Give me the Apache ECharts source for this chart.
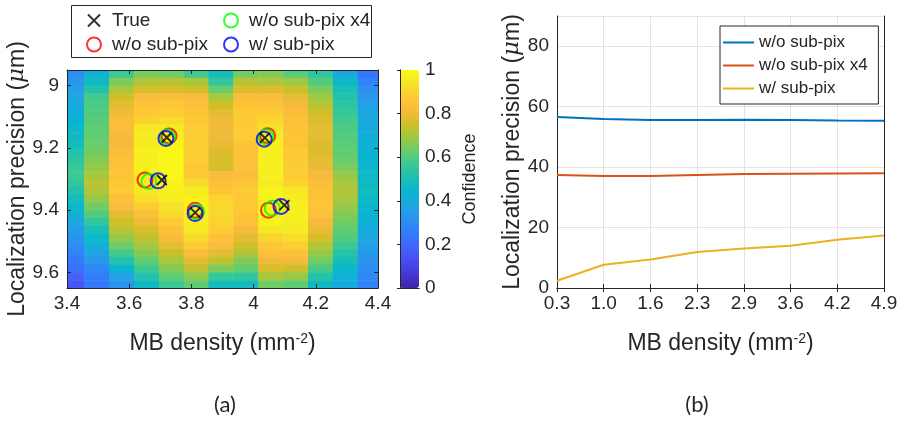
<!DOCTYPE html>
<html>
<head>
<meta charset="utf-8">
<script src="https://cdn.jsdelivr.net/npm/echarts@6/dist/echarts.min.js"></script>
<style>
  html, body { margin: 0; padding: 0; background: #fff; }
  #chart { width: 904px; height: 424px; }
</style>
</head>
<body>
<div id="chart"></div>
<script>
  // (a) confidence map: cell centres and values, one array per column (top row first)
  var cellX = [3.415, 3.495, 3.575, 3.655, 3.735, 3.815, 3.895, 3.975, 4.055, 4.135, 4.215, 4.295, 4.375];
  var cellY = [8.9625, 8.9875, 9.0125, 9.0375, 9.0625, 9.0875, 9.1125, 9.1375, 9.1625, 9.1875,
    9.2125, 9.2375, 9.2625, 9.2875, 9.3125, 9.3375, 9.3625, 9.3875, 9.4125, 9.4375,
    9.4625, 9.4875, 9.5125, 9.5375, 9.5625, 9.5875, 9.6125, 9.6375];
  var cellW = 0.08;
  var cellH = 0.025;
  var confidence = [
    [0.30, 0.33, 0.36, 0.38, 0.40, 0.41, 0.43, 0.45, 0.47, 0.48, 0.52, 0.54, 0.56, 0.57, 0.55, 0.52, 0.48, 0.45, 0.42, 0.38, 0.35, 0.32, 0.30, 0.27, 0.25, 0.22, 0.18, 0.15],
    [0.42, 0.47, 0.52, 0.58, 0.59, 0.60, 0.61, 0.62, 0.62, 0.63, 0.64, 0.66, 0.68, 0.70, 0.72, 0.71, 0.68, 0.64, 0.60, 0.55, 0.50, 0.46, 0.42, 0.37, 0.33, 0.28, 0.25, 0.24],
    [0.57, 0.65, 0.70, 0.75, 0.78, 0.80, 0.83, 0.83, 0.81, 0.81, 0.83, 0.84, 0.85, 0.86, 0.87, 0.88, 0.84, 0.82, 0.78, 0.75, 0.72, 0.68, 0.64, 0.58, 0.52, 0.44, 0.37, 0.32],
    [0.65, 0.71, 0.76, 0.82, 0.86, 0.87, 0.90, 0.95, 0.96, 0.96, 0.97, 0.97, 0.97, 0.97, 0.96, 0.95, 0.93, 0.88, 0.84, 0.80, 0.76, 0.73, 0.70, 0.66, 0.62, 0.57, 0.52, 0.47],
    [0.64, 0.72, 0.77, 0.83, 0.87, 0.88, 0.92, 0.95, 0.97, 0.98, 0.99, 0.99, 0.99, 0.99, 0.98, 0.97, 0.96, 0.93, 0.92, 0.88, 0.85, 0.82, 0.78, 0.74, 0.70, 0.66, 0.62, 0.57],
    [0.58, 0.70, 0.75, 0.82, 0.84, 0.86, 0.87, 0.88, 0.88, 0.89, 0.89, 0.88, 0.87, 0.88, 0.92, 0.96, 0.97, 0.98, 0.97, 0.96, 0.95, 0.92, 0.88, 0.83, 0.78, 0.73, 0.67, 0.62],
    [0.49, 0.55, 0.63, 0.70, 0.75, 0.78, 0.80, 0.80, 0.80, 0.79, 0.77, 0.76, 0.76, 0.82, 0.84, 0.86, 0.90, 0.91, 0.91, 0.90, 0.88, 0.85, 0.82, 0.78, 0.73, 0.65, 0.56, 0.48],
    [0.64, 0.72, 0.77, 0.83, 0.86, 0.88, 0.88, 0.88, 0.88, 0.86, 0.85, 0.85, 0.84, 0.83, 0.86, 0.88, 0.87, 0.87, 0.86, 0.84, 0.81, 0.78, 0.75, 0.71, 0.66, 0.62, 0.55, 0.48],
    [0.66, 0.71, 0.77, 0.83, 0.85, 0.88, 0.91, 0.94, 0.96, 0.97, 0.97, 0.97, 0.97, 0.97, 0.96, 0.98, 0.98, 0.98, 0.98, 0.98, 0.95, 0.90, 0.87, 0.84, 0.80, 0.76, 0.70, 0.64],
    [0.61, 0.69, 0.74, 0.78, 0.81, 0.83, 0.84, 0.85, 0.86, 0.86, 0.88, 0.88, 0.88, 0.88, 0.90, 0.95, 0.96, 0.97, 0.97, 0.96, 0.96, 0.93, 0.89, 0.85, 0.81, 0.74, 0.68, 0.62],
    [0.55, 0.60, 0.65, 0.69, 0.72, 0.75, 0.77, 0.78, 0.78, 0.77, 0.77, 0.78, 0.79, 0.81, 0.83, 0.84, 0.85, 0.86, 0.85, 0.81, 0.79, 0.76, 0.72, 0.68, 0.64, 0.59, 0.53, 0.47],
    [0.38, 0.46, 0.50, 0.52, 0.54, 0.56, 0.58, 0.59, 0.60, 0.61, 0.62, 0.63, 0.65, 0.68, 0.70, 0.71, 0.70, 0.68, 0.66, 0.64, 0.62, 0.60, 0.57, 0.53, 0.49, 0.45, 0.42, 0.40],
    [0.24, 0.27, 0.31, 0.33, 0.36, 0.38, 0.39, 0.40, 0.41, 0.42, 0.43, 0.44, 0.45, 0.46, 0.47, 0.48, 0.46, 0.45, 0.44, 0.42, 0.40, 0.38, 0.36, 0.34, 0.32, 0.30, 0.29, 0.27]
  ];

  // (a) localized positions
  var trueX = [3.721, 4.036, 3.705, 3.812, 4.099];
  var trueY = [9.167, 9.168, 9.303, 9.408, 9.384];
  var noSubX = [3.728, 4.045, 3.651, 3.812, 4.048];
  var noSubY = [9.162, 9.161, 9.303, 9.400, 9.400];
  var noSubX4X = [3.723, 4.040, 3.663, 3.817, 4.060];
  var noSubX4Y = [9.165, 9.165, 9.308, 9.405, 9.394];
  var subX = [3.718, 4.034, 3.693, 3.812, 4.088];
  var subY = [9.170, 9.172, 9.306, 9.411, 9.388];

  // (b) localization precision vs density
  var densityLabels = ['0.3', '1.0', '1.6', '2.3', '2.9', '3.6', '4.2', '4.9'];
  var precNoSub = [56.6, 55.9, 55.6, 55.6, 55.7, 55.6, 55.4, 55.3];
  var precNoSubX4 = [37.4, 37.1, 37.1, 37.4, 37.7, 37.8, 37.9, 38.0];
  var precSub = [2.4, 7.7, 9.4, 11.9, 13.1, 14.0, 16.0, 17.4];

  var parula = ['#3e26a8', '#4537d5', '#484cf0', '#4563fd', '#327cfc', '#2b91ef', '#20a5e3', '#08b5d0',
    '#19bfb6', '#37c897', '#64cd6f', '#9dc943', '#d1bf27', '#f8ba3d', '#fec934', '#f5e327', '#f9fb15'];

  var ink = '#262626';
  var font = 'Liberation Sans, Arial, sans-serif';

  var cells = [];
  cellX.forEach(function (x, i) {
    cellY.forEach(function (y, j) {
      cells.push([x, y, confidence[i][j]]);
    });
  });

  function pts(xs, ys) {
    return xs.map(function (x, i) { return [x, ys[i]]; });
  }

  var crossPath = 'path://M0,0M16,16M3,3L13,13M3,13L13,3';
  var crossIcon = 'path://M0,0M14,14M1,1L13,13M1,13L13,1';

  var chart = echarts.init(document.getElementById('chart'));

  var axisLineStyle = { show: true, lineStyle: { color: ink, width: 1 } };
  var nameRich = {
    sup: { fontSize: 14, verticalAlign: 'top', fontFamily: font, color: ink },
    mu: { fontSize: 23, fontStyle: 'italic', fontFamily: 'DejaVu Serif', color: ink }
  };
  var nameStyle = { fontSize: 23, color: ink, fontFamily: font, rich: nameRich };
  var tickLabel = { fontSize: 19, color: ink, fontFamily: font };

  chart.setOption({
    animation: false,
    textStyle: { fontFamily: font },
    grid: [
      { left: 67, top: 70, width: 311, height: 218 },
      { left: 400, top: 70, width: 19, height: 218 },
      { left: 557, top: 16, width: 327, height: 272 }
    ],
    xAxis: [
      {
        gridIndex: 0, type: 'value', min: 3.4, max: 4.4, interval: 0.2, z: 10,
        axisLine: axisLineStyle,
        axisTick: { inside: true, length: 4, lineStyle: { color: ink } },
        axisLabel: Object.assign({ margin: 6 }, tickLabel),
        splitLine: { show: false },
        name: 'MB density (mm{sup|-2})', nameLocation: 'middle', nameGap: 44, nameTextStyle: nameStyle
      },
      {
        gridIndex: 0, type: 'value', position: 'top', min: 3.4, max: 4.4, interval: 0.2, z: 10,
        axisLine: axisLineStyle,
        axisTick: { inside: true, length: 4, lineStyle: { color: ink } },
        axisLabel: { show: false }, splitLine: { show: false }
      },
      {
        gridIndex: 1, type: 'value', min: 0, max: 1, z: 10,
        axisLine: axisLineStyle, axisTick: { show: false }, axisLabel: { show: false }, splitLine: { show: false }
      },
      {
        gridIndex: 1, type: 'value', position: 'top', min: 0, max: 1, z: 10,
        axisLine: axisLineStyle, axisTick: { show: false }, axisLabel: { show: false }, splitLine: { show: false }
      },
      {
        gridIndex: 2, type: 'category', boundaryGap: false, data: densityLabels,
        axisLine: axisLineStyle,
        axisTick: { inside: true, length: 4, lineStyle: { color: ink } },
        axisLabel: Object.assign({ margin: 6 }, tickLabel),
        splitLine: { show: true, lineStyle: { color: '#e3e3e3' } },
        name: 'MB density (mm{sup|-2})', nameLocation: 'middle', nameGap: 44, nameTextStyle: nameStyle
      },
      {
        gridIndex: 2, type: 'category', position: 'top', boundaryGap: false, data: densityLabels,
        axisLine: axisLineStyle,
        axisTick: { inside: true, length: 4, lineStyle: { color: ink } },
        axisLabel: { show: false }, splitLine: { show: false }
      }
    ],
    yAxis: [
      {
        gridIndex: 0, type: 'value', inverse: true, min: 8.95, max: 9.65, z: 10,
        axisLine: axisLineStyle,
        axisTick: { inside: true, length: 4, customValues: [9, 9.2, 9.4, 9.6], lineStyle: { color: ink } },
        axisLabel: Object.assign({ margin: 8, customValues: [9, 9.2, 9.4, 9.6] }, tickLabel),
        splitLine: { show: false },
        name: 'Localization precision ({mu|μ}m)', nameLocation: 'middle', nameGap: 35, nameTextStyle: nameStyle
      },
      {
        gridIndex: 0, type: 'value', position: 'right', inverse: true, min: 8.95, max: 9.65, z: 10,
        axisLine: axisLineStyle,
        axisTick: { inside: true, length: 4, customValues: [9, 9.2, 9.4, 9.6], lineStyle: { color: ink } },
        axisLabel: { show: false }, splitLine: { show: false }
      },
      {
        gridIndex: 1, type: 'value', min: 0, max: 1, z: 10,
        axisLine: axisLineStyle, axisTick: { show: false }, axisLabel: { show: false }, splitLine: { show: false }
      },
      {
        gridIndex: 1, type: 'value', position: 'right', min: 0, max: 1, interval: 0.2, z: 10,
        axisLine: axisLineStyle,
        axisTick: { inside: true, length: 3, lineStyle: { color: ink } },
        axisLabel: { fontSize: 19, color: ink, margin: 6 },
        splitLine: { show: false },
        name: 'Confidence', nameLocation: 'middle', nameGap: 42,
        nameTextStyle: { fontSize: 18, color: ink }
      },
      {
        gridIndex: 2, type: 'value', min: 0, max: 90, interval: 20,
        axisLine: axisLineStyle,
        axisTick: { inside: true, length: 4, lineStyle: { color: ink } },
        axisLabel: Object.assign({ margin: 8, showMaxLabel: false }, tickLabel),
        splitLine: { show: true, lineStyle: { color: '#e3e3e3' } },
        name: 'Localization precision ({mu|μ}m)', nameLocation: 'middle', nameGap: 31, nameTextStyle: nameStyle
      },
      {
        gridIndex: 2, type: 'value', position: 'right', min: 0, max: 90, interval: 20,
        axisLine: axisLineStyle,
        axisTick: { inside: true, length: 4, lineStyle: { color: ink } },
        axisLabel: { show: false }, splitLine: { show: false }
      }
    ],
    visualMap: {
      type: 'continuous', min: 0, max: 1, seriesIndex: 0, dimension: 2,
      left: 400, top: 70, itemWidth: 19, itemHeight: 218, padding: 0,
      calculable: false, text: null, hoverLink: false,
      inRange: { color: parula }
    },
    legend: [
      {
        data: [{ name: 'True', icon: crossIcon }, 'w/o sub-pix'], left: 86, top: 11, orient: 'vertical', padding: 0,
        itemWidth: 26, itemHeight: 14, itemGap: 5,
        textStyle: { fontSize: 19, color: ink, fontFamily: font }
      },
      {
        data: ['w/o sub-pix x4', 'w/ sub-pix'], left: 223, top: 11, orient: 'vertical', padding: 0,
        itemWidth: 26, itemHeight: 14, itemGap: 5,
        textStyle: { fontSize: 19, color: ink, fontFamily: font }
      },
      {
        data: ['w/o sub-pix ', 'w/o sub-pix x4 ', 'w/ sub-pix '], left: 720, top: 26, orient: 'vertical',
        padding: [8, 6, 7, 3], itemWidth: 31, itemHeight: 2, itemGap: 6, icon: 'rect',
        borderColor: ink, borderWidth: 1, backgroundColor: '#fff',
        textStyle: { fontSize: 17, color: ink, fontFamily: font }
      }
    ],
    graphic: [
      { type: 'rect', left: 71, top: 5, shape: { width: 300, height: 52 }, style: { fill: '#fff', stroke: ink, lineWidth: 1 }, z: -1 },
      { type: 'text', x: 225, y: 405, style: { text: '(a)', fontSize: 22, fill: ink, fontFamily: 'Lato', align: 'center', verticalAlign: 'middle' } },
      { type: 'text', x: 697, y: 405, style: { text: '(b)', fontSize: 22, fill: ink, fontFamily: 'Lato', align: 'center', verticalAlign: 'middle' } }
    ],
    series: [
      {
        type: 'custom', name: 'confidence', xAxisIndex: 0, yAxisIndex: 0, clip: true,
        encode: { x: 0, y: 1 }, data: cells,
        renderItem: function (params, api) {
          var x = api.value(0), y = api.value(1);
          var p0 = api.coord([x - cellW / 2, y - cellH / 2]);
          var p1 = api.coord([x + cellW / 2, y + cellH / 2]);
          return {
            type: 'rect',
            shape: {
              x: Math.min(p0[0], p1[0]), y: Math.min(p0[1], p1[1]),
              width: Math.abs(p1[0] - p0[0]) + 0.5, height: Math.abs(p1[1] - p0[1]) + 0.5
            },
            style: { fill: api.visual('color') }
          };
        }
      },
      {
        type: 'scatter', name: 'w/o sub-pix', xAxisIndex: 0, yAxisIndex: 0, data: pts(noSubX, noSubY),
        symbol: 'circle', symbolSize: 15, z: 3,
        itemStyle: { color: 'rgba(0,0,0,0)', borderColor: '#ff0000', borderWidth: 2 }
      },
      {
        type: 'scatter', name: 'w/o sub-pix x4', xAxisIndex: 0, yAxisIndex: 0, data: pts(noSubX4X, noSubX4Y),
        symbol: 'circle', symbolSize: 15, z: 4,
        itemStyle: { color: 'rgba(0,0,0,0)', borderColor: '#00ff00', borderWidth: 2 }
      },
      {
        type: 'scatter', name: 'w/ sub-pix', xAxisIndex: 0, yAxisIndex: 0, data: pts(subX, subY),
        symbol: 'circle', symbolSize: 15, z: 5,
        itemStyle: { color: 'rgba(0,0,0,0)', borderColor: '#0000ff', borderWidth: 2 }
      },
      {
        type: 'scatter', name: 'True', xAxisIndex: 0, yAxisIndex: 0, data: pts(trueX, trueY),
        symbol: crossPath, symbolSize: 16, z: 6,
        itemStyle: { color: 'rgba(0,0,0,0)', borderColor: '#000', borderWidth: 2 }
      },
      {
        type: 'line', name: 'w/o sub-pix ', xAxisIndex: 4, yAxisIndex: 4, data: precNoSub,
        symbol: 'none', lineStyle: { color: '#0072bd', width: 2 }, itemStyle: { color: '#0072bd' }
      },
      {
        type: 'line', name: 'w/o sub-pix x4 ', xAxisIndex: 4, yAxisIndex: 4, data: precNoSubX4,
        symbol: 'none', lineStyle: { color: '#d95319', width: 2 }, itemStyle: { color: '#d95319' }
      },
      {
        type: 'line', name: 'w/ sub-pix ', xAxisIndex: 4, yAxisIndex: 4, data: precSub,
        symbol: 'none', lineStyle: { color: '#edb120', width: 2 }, itemStyle: { color: '#edb120' }
      }
    ]
  });
</script>
</body>
</html>
